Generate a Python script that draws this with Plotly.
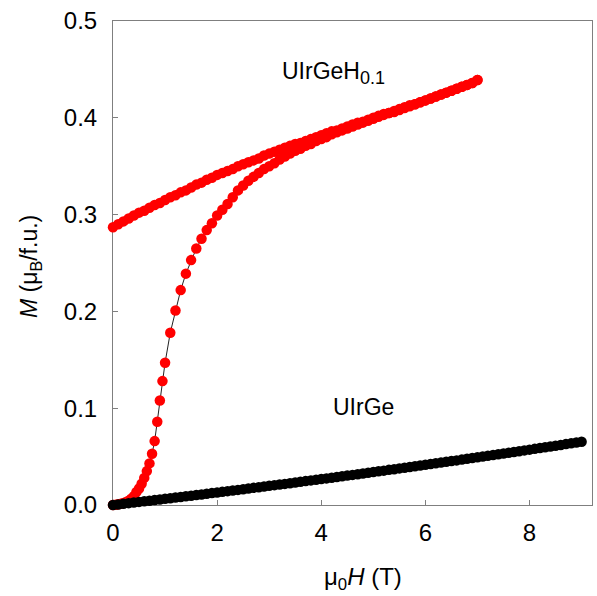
import plotly.graph_objects as go

# ---- UIrGe: magnetization curve (0 -> 9 T) ----
h_uirge = [0.0, 0.1, 0.2, 0.3, 0.4, 0.5, 0.6, 0.7, 0.8, 0.9,
           1.0, 1.1, 1.2, 1.3, 1.4, 1.5, 1.6, 1.7, 1.8, 1.9,
           2.0, 2.1, 2.2, 2.3, 2.4, 2.5, 2.6, 2.7, 2.8, 2.9,
           3.0, 3.1, 3.2, 3.3, 3.4, 3.5, 3.6, 3.7, 3.8, 3.9,
           4.0, 4.1, 4.2, 4.3, 4.4, 4.5, 4.6, 4.7, 4.8, 4.9,
           5.0, 5.1, 5.2, 5.3, 5.4, 5.5, 5.6, 5.7, 5.8, 5.9,
           6.0, 6.1, 6.2, 6.3, 6.4, 6.5, 6.6, 6.7, 6.8, 6.9,
           7.0, 7.1, 7.2, 7.3, 7.4, 7.5, 7.6, 7.7, 7.8, 7.9,
           8.0, 8.1, 8.2, 8.3, 8.4, 8.5, 8.6, 8.7, 8.8, 8.9, 9.0]
m_uirge = [0.0000, 0.0006, 0.0013, 0.0019, 0.0025, 0.0032, 0.0038, 0.0044, 0.0051, 0.0057,
           0.0064, 0.0070, 0.0077, 0.0083, 0.0090, 0.0096, 0.0103, 0.0109, 0.0116, 0.0123,
           0.0129, 0.0136, 0.0143, 0.0150, 0.0156, 0.0163, 0.0170, 0.0177, 0.0184, 0.0191,
           0.0198, 0.0205, 0.0211, 0.0218, 0.0225, 0.0232, 0.0240, 0.0247, 0.0254, 0.0261,
           0.0268, 0.0275, 0.0282, 0.0289, 0.0297, 0.0304, 0.0311, 0.0318, 0.0326, 0.0333,
           0.0341, 0.0348, 0.0355, 0.0363, 0.0370, 0.0378, 0.0385, 0.0393, 0.0400, 0.0408,
           0.0415, 0.0423, 0.0431, 0.0438, 0.0446, 0.0454, 0.0461, 0.0469, 0.0477, 0.0485,
           0.0492, 0.0500, 0.0508, 0.0516, 0.0524, 0.0532, 0.0540, 0.0548, 0.0556, 0.0564,
           0.0572, 0.0580, 0.0588, 0.0596, 0.0604, 0.0612, 0.0620, 0.0629, 0.0637, 0.0645, 0.0653]

# ---- UIrGeH0.1: virgin curve, field increasing 0 -> 7 T ----
h_up = [0.00, 0.05, 0.10, 0.15, 0.20, 0.25, 0.30, 0.35, 0.40, 0.45,
        0.50, 0.55, 0.60, 0.65, 0.70, 0.75, 0.80, 0.85, 0.90, 0.95, 1.00,
        1.1, 1.2, 1.3, 1.4, 1.5, 1.6, 1.7, 1.8, 1.9, 2.0,
        2.1, 2.2, 2.3, 2.4, 2.5, 2.6, 2.7, 2.8, 2.9, 3.0,
        3.1, 3.2, 3.3, 3.4, 3.5, 3.6, 3.7, 3.8, 3.9, 4.0,
        4.1, 4.2, 4.3, 4.4, 4.5, 4.6, 4.7, 4.8, 4.9, 5.0,
        5.1, 5.2, 5.3, 5.4, 5.5, 5.6, 5.7, 5.8, 5.9, 6.0,
        6.1, 6.2, 6.3, 6.4, 6.5, 6.6, 6.7, 6.8, 6.9, 7.0]
m_up = [0.0000, 0.0003, 0.0007, 0.0012, 0.0020, 0.0030, 0.0045, 0.0065, 0.0090, 0.0135,
        0.0170, 0.0220, 0.0280, 0.0350, 0.0430, 0.0530, 0.0660, 0.0860, 0.1080, 0.1280, 0.1470,
        0.178, 0.201, 0.222, 0.239, 0.253, 0.265, 0.275, 0.284, 0.291, 0.299,
        0.305, 0.311, 0.318, 0.325, 0.330, 0.335, 0.339, 0.343, 0.347, 0.350,
        0.353, 0.357, 0.360, 0.363, 0.366, 0.368, 0.371, 0.373, 0.376, 0.378,
        0.380, 0.383, 0.385, 0.387, 0.389, 0.391, 0.393, 0.395, 0.397, 0.399,
        0.401, 0.403, 0.405, 0.406, 0.408, 0.410, 0.412, 0.414, 0.416, 0.418,
        0.420, 0.422, 0.424, 0.426, 0.428, 0.430, 0.432, 0.434, 0.436, 0.439]

# ---- UIrGeH0.1: field decreasing 7 -> 0 T ----
h_down = [7.0, 6.9, 6.8, 6.7, 6.6, 6.5, 6.4, 6.3, 6.2, 6.1,
          6.0, 5.9, 5.8, 5.7, 5.6, 5.5, 5.4, 5.3, 5.2, 5.1,
          5.0, 4.9, 4.8, 4.7, 4.6, 4.5, 4.4, 4.3, 4.2, 4.1,
          4.0, 3.9, 3.8, 3.7, 3.6, 3.5, 3.4, 3.3, 3.2, 3.1,
          3.0, 2.9, 2.8, 2.7, 2.6, 2.5, 2.4, 2.3, 2.2, 2.1,
          2.0, 1.9, 1.8, 1.7, 1.6, 1.5, 1.4, 1.3, 1.2, 1.1,
          1.0, 0.9, 0.8, 0.7, 0.6, 0.5, 0.4, 0.3, 0.2, 0.1, 0.0]
m_down = [0.439, 0.436, 0.434, 0.432, 0.430, 0.428, 0.426, 0.424, 0.422, 0.420,
          0.418, 0.416, 0.414, 0.413, 0.411, 0.409, 0.407, 0.405, 0.404, 0.402,
          0.400, 0.398, 0.396, 0.395, 0.393, 0.391, 0.389, 0.387, 0.386, 0.384,
          0.382, 0.380, 0.378, 0.376, 0.374, 0.373, 0.371, 0.369, 0.367, 0.365,
          0.363, 0.361, 0.358, 0.356, 0.354, 0.352, 0.350, 0.347, 0.345, 0.343,
          0.341, 0.338, 0.336, 0.333, 0.331, 0.328, 0.325, 0.323, 0.320, 0.318,
          0.315, 0.312, 0.310, 0.307, 0.304, 0.302, 0.299, 0.296, 0.293, 0.290, 0.287]

# axis ticks
x_ticks = [0, 2, 4, 6, 8]
y_ticks = [0.0, 0.1, 0.2, 0.3, 0.4, 0.5]

RED = "#ff0000"
BLACK = "#000000"
AXIS_GRAY = "#7f7f7f"
FONT = "Liberation Sans, Arial, Helvetica, sans-serif"
MARKER_SIZE = 10.5

fig = go.Figure()

# thin connecting lines under all markers
for h, m in [(h_uirge, m_uirge), (h_up, m_up), (h_down, m_down)]:
    fig.add_trace(go.Scatter(x=h, y=m, mode="lines",
                             line=dict(color="#222222", width=1),
                             hoverinfo="skip", cliponaxis=False))

# symbols: hydride branches first, UIrGe on top
fig.add_trace(go.Scatter(x=h_down, y=m_down, mode="markers", name="UIrGeH0.1 (down)",
                         marker=dict(color=RED, size=MARKER_SIZE, line=dict(width=0)),
                         cliponaxis=False))
fig.add_trace(go.Scatter(x=h_up, y=m_up, mode="markers", name="UIrGeH0.1 (up)",
                         marker=dict(color=RED, size=MARKER_SIZE, line=dict(width=0)),
                         cliponaxis=False))
fig.add_trace(go.Scatter(x=h_uirge, y=m_uirge, mode="markers", name="UIrGe",
                         marker=dict(color=BLACK, size=MARKER_SIZE, line=dict(width=0)),
                         cliponaxis=False))

axis_common = dict(
    ticks="inside", ticklen=5, tickwidth=1, tickcolor=AXIS_GRAY,
    showline=True, linecolor=AXIS_GRAY, linewidth=1, mirror=True,
    showgrid=False, zeroline=False, layer="below traces",
    tickfont=dict(family=FONT, size=24, color="black"),
)

fig.update_layout(
    width=597, height=596,
    margin=dict(l=113, r=5, t=21, b=91),
    paper_bgcolor="white", plot_bgcolor="white",
    showlegend=False,
    font=dict(family=FONT, color="black"),
    xaxis=dict(range=[0, 9.2], tickvals=x_ticks, ticklabelstandoff=6, **axis_common),
    yaxis=dict(range=[0, 0.5], tickvals=y_ticks, tickformat=".1f",
               ticklabelstandoff=10, **axis_common),
    annotations=[
        dict(text="μ<sub>0</sub><i>H</i> (T)", xref="paper", yref="paper",
             x=(363 - 113) / 479, y=-(578 - 505) / 484, xanchor="center", yanchor="middle",
             showarrow=False, font=dict(family=FONT, size=24)),
        dict(text="<i>M</i> (μ<sub>B</sub>/f.u.)", xref="paper", yref="paper",
             x=-(113 - 30) / 479, y=(505 - 267) / 484, xanchor="center", yanchor="middle",
             textangle=-90, showarrow=False, font=dict(family=FONT, size=23)),
        dict(text="UIrGeH<sub><span style='font-size:18px'>0.1</span></sub>",
             xref="x", yref="y", x=3.21, y=0.446,
             xanchor="left", yanchor="middle", showarrow=False,
             font=dict(family=FONT, size=23)),
        dict(text="UIrGe", xref="x", yref="y", x=4.19, y=0.101,
             xanchor="left", yanchor="middle", showarrow=False,
             font=dict(family=FONT, size=23)),
    ],
)

fig.write_html("out.html")
